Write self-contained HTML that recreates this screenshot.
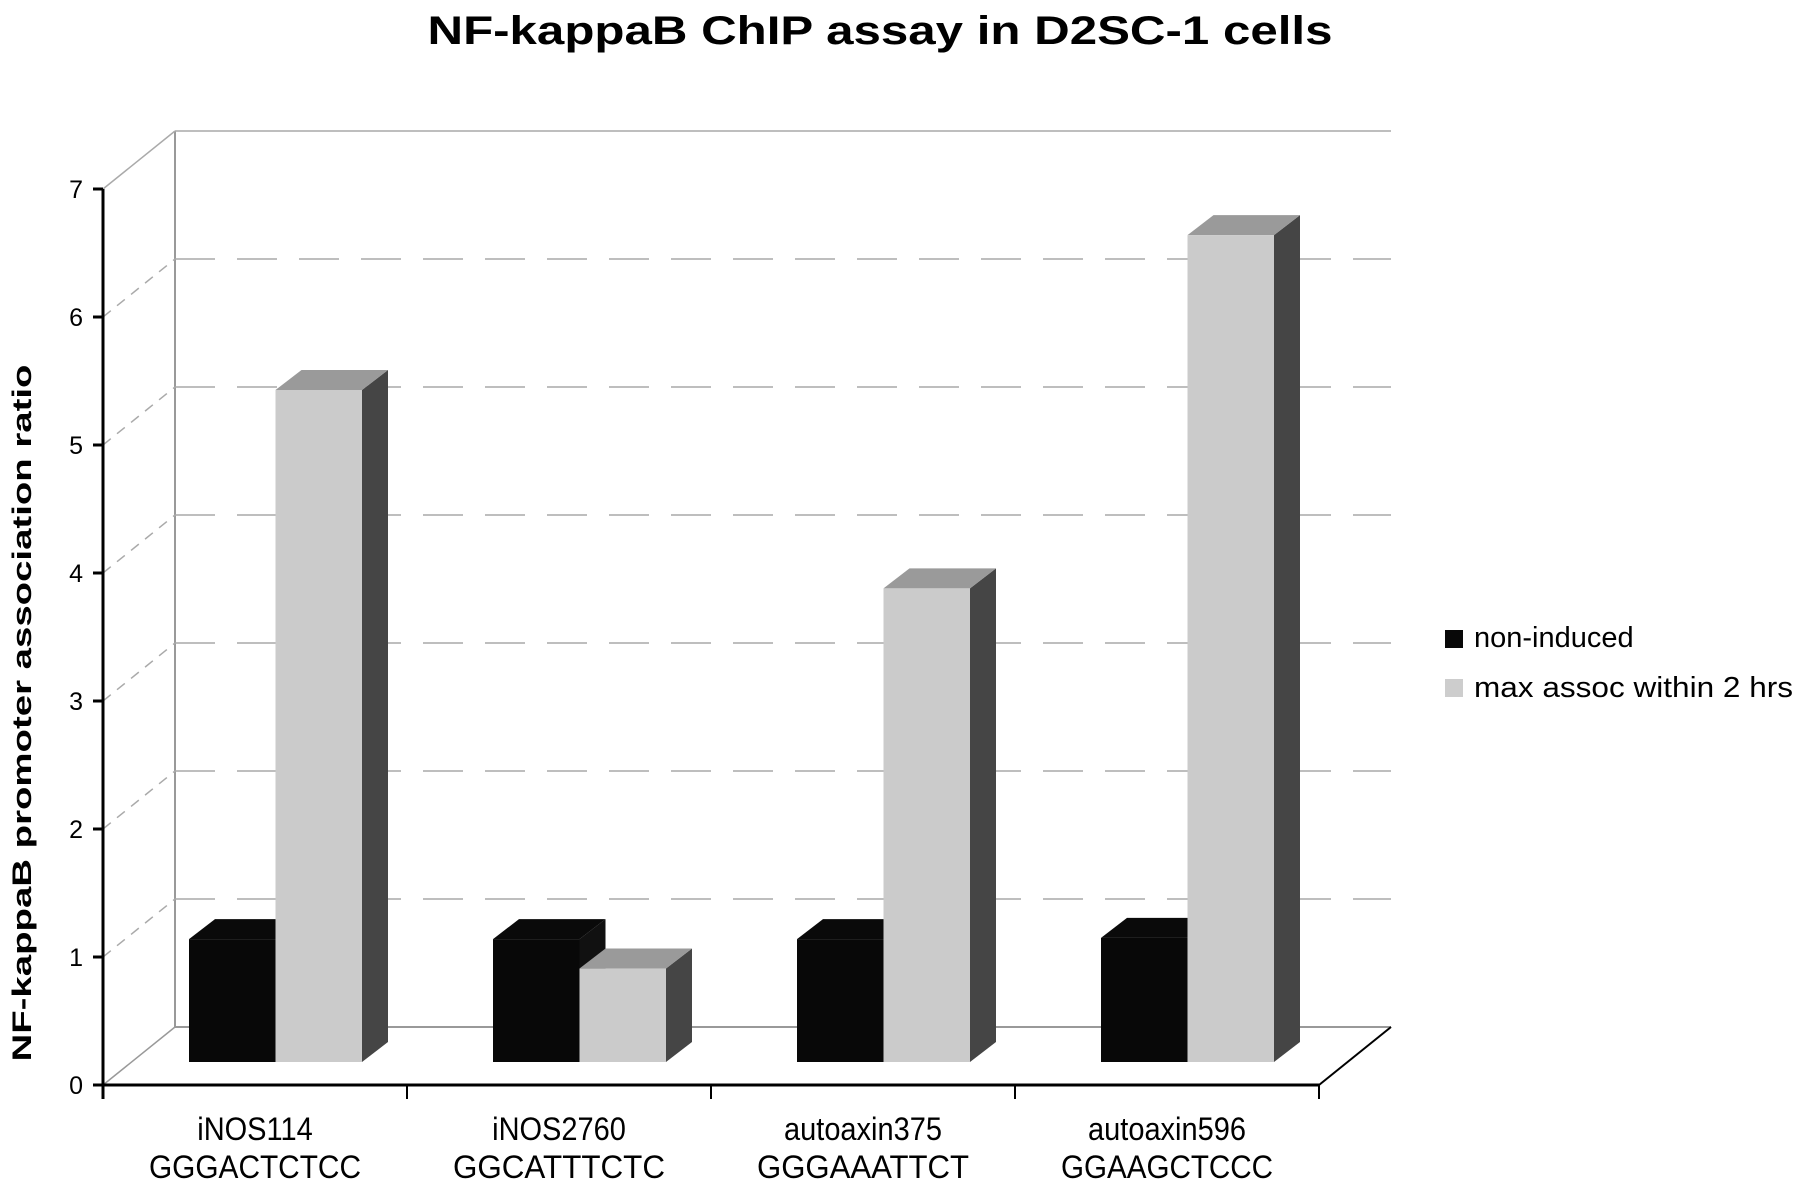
<!DOCTYPE html>
<html><head><meta charset="utf-8"><style>html,body{margin:0;padding:0;background:#fff}svg{display:block}</style></head>
<body>
<svg id="chart" width="1800" height="1186" viewBox="0 0 1800 1186" xmlns="http://www.w3.org/2000/svg" font-family="Liberation Sans, sans-serif">
<text x="880" y="44" font-size="40" font-weight="bold" text-anchor="middle" textLength="905" lengthAdjust="spacingAndGlyphs">NF-kappaB ChIP assay in D2SC-1 cells</text>
<text transform="translate(31,713) rotate(-90)" font-size="27" font-weight="bold" text-anchor="middle" textLength="697" lengthAdjust="spacingAndGlyphs">NF-kappaB promoter association ratio</text>
<g id="grid"></g>
<g id="bars"></g>
<g id="axes"></g>
<g>
<rect x="1445" y="630" width="18" height="18" fill="#080808"/>
<text x="1474" y="647" font-size="29">non-induced</text>
<rect x="1445" y="679" width="18" height="18" fill="#cdcdcd"/>
<text x="1474" y="697" font-size="29" textLength="319" lengthAdjust="spacingAndGlyphs">max assoc within 2 hrs</text>
</g>
</svg>
<script>
const categories = ["iNOS114", "iNOS2760", "autoaxin375", "autoaxin596"];
const sequences = ["GGGACTCTCC", "GGCATTTCTC", "GGGAAATTCT", "GGAAGCTCCC"];
const nonInduced = [0.96, 0.96, 0.96, 0.97];
const maxAssoc = [5.25, 0.73, 3.70, 6.46];
const yTicks = [0, 1, 2, 3, 4, 5, 6, 7];

const NS = "http://www.w3.org/2000/svg";
const X0 = 103, X1 = 1319, Y0 = 1085, UNIT = 128, DX = 72, DY = 58;
const catW = (X1 - X0) / categories.length;
const BAR_BASE = 1062, BAR_W = 86.5, BDX = 26, BDY = 20, BAR_OFF = 86;
function yFront(v) { return Y0 - v * UNIT; }
function yBar(v) { return BAR_BASE - v * UNIT; }
function catX(i) { return X0 + i * catW; }
function mk(tag, attrs, parent) {
  const e = document.createElementNS(NS, tag);
  for (const k in attrs) e.setAttribute(k, attrs[k]);
  parent.appendChild(e);
  return e;
}
const grid = document.getElementById('grid');
const bars = document.getElementById('bars');
const axes = document.getElementById('axes');

let e;
e = mk('line', {x1: X0 + DX, y1: yFront(7) - DY, x2: X0 + DX, y2: Y0 - DY, stroke: '#999', 'stroke-width': 2}, grid);


e = mk('line', {x1: X0 + DX, y1: Y0 - DY, x2: X1 + DX, y2: Y0 - DY, stroke: '#999', 'stroke-width': 2}, grid);


e = mk('line', {x1: X0, y1: Y0, x2: X0 + DX, y2: Y0 - DY, stroke: '#999', 'stroke-width': 1.5}, grid);


yTicks.forEach(v => {
  if (v === 0) return;
  const yb = yFront(v) - DY;
  const dashed = v < 7;
  e = mk('line', {x1: X0, y1: yFront(v), x2: X0 + DX, y2: yb, stroke: '#aaa', 'stroke-width': 1.5, 'stroke-dasharray': dashed ? '10 8' : 'none'}, grid);
  
  
  e = mk('line', {x1: X0 + DX, y1: yb, x2: X1 + DX, y2: yb, stroke: '#a8a8a8', 'stroke-width': 1.5, 'stroke-dasharray': dashed ? '40 22' : 'none'}, grid);
  
  
});

function bar(x, v, front, top, side, name) {
  const yt = yBar(v);
  const g = mk('g', {}, bars);
  
  
  mk('polygon', {points: `${x+BAR_W},${BAR_BASE} ${x+BAR_W+BDX},${BAR_BASE-BDY} ${x+BAR_W+BDX},${yt-BDY} ${x+BAR_W},${yt}`, fill: side}, g);
  mk('polygon', {points: `${x},${yt} ${x+BDX},${yt-BDY} ${x+BAR_W+BDX},${yt-BDY} ${x+BAR_W},${yt}`, fill: top}, g);
  mk('rect', {x: x, y: yt, width: BAR_W, height: BAR_BASE - yt, fill: front}, g);
}
categories.forEach((c, i) => {
  const bx = catX(i) + BAR_OFF;
  bar(bx, nonInduced[i], '#080808', '#0a0a0a', '#111', 'bar-non-induced-' + c);
  bar(bx + BAR_W, maxAssoc[i], '#cbcbcb', '#9a9a9a', '#454545', 'bar-max-assoc-' + c);
});

e = mk('line', {x1: X0, y1: yFront(7), x2: X0, y2: Y0 + 14, stroke: '#000', 'stroke-width': 3}, axes);


e = mk('line', {x1: X0 - 2, y1: Y0, x2: X1, y2: Y0, stroke: '#000', 'stroke-width': 3}, axes);


e = mk('line', {x1: X1, y1: Y0, x2: X1 + DX, y2: Y0 - DY, stroke: '#000', 'stroke-width': 2}, axes);


yTicks.forEach(v => {
  e = mk('line', {x1: X0 - 10, y1: yFront(v), x2: X0, y2: yFront(v), stroke: '#000', 'stroke-width': 3}, axes);
  
  
  e = mk('text', {x: X0 - 20, y: yFront(v) + 9, 'font-size': 25, 'text-anchor': 'end'}, axes);
  e.textContent = String(v);
  
  
});
for (let i = 0; i <= categories.length; i++) {
  e = mk('line', {x1: catX(i), y1: Y0, x2: catX(i), y2: Y0 + 14, stroke: '#000', 'stroke-width': 2}, axes);
  
  
}
categories.forEach((c, i) => {
  const cx = catX(i) + catW / 2;
  e = mk('text', {x: cx, y: 1140, 'font-size': 29, 'text-anchor': 'middle', transform: `translate(${cx},1140) scale(1,1.12) translate(${-cx},-1140)`}, axes);
  e.textContent = c;
  
  
  e = mk('text', {x: cx, y: 1178, 'font-size': 29, 'text-anchor': 'middle', textLength: 212, lengthAdjust: 'spacingAndGlyphs', transform: `translate(${cx},1178) scale(1,1.12) translate(${-cx},-1178)`}, axes);
  e.textContent = sequences[i];
  
  
});
</script>
</body></html>
